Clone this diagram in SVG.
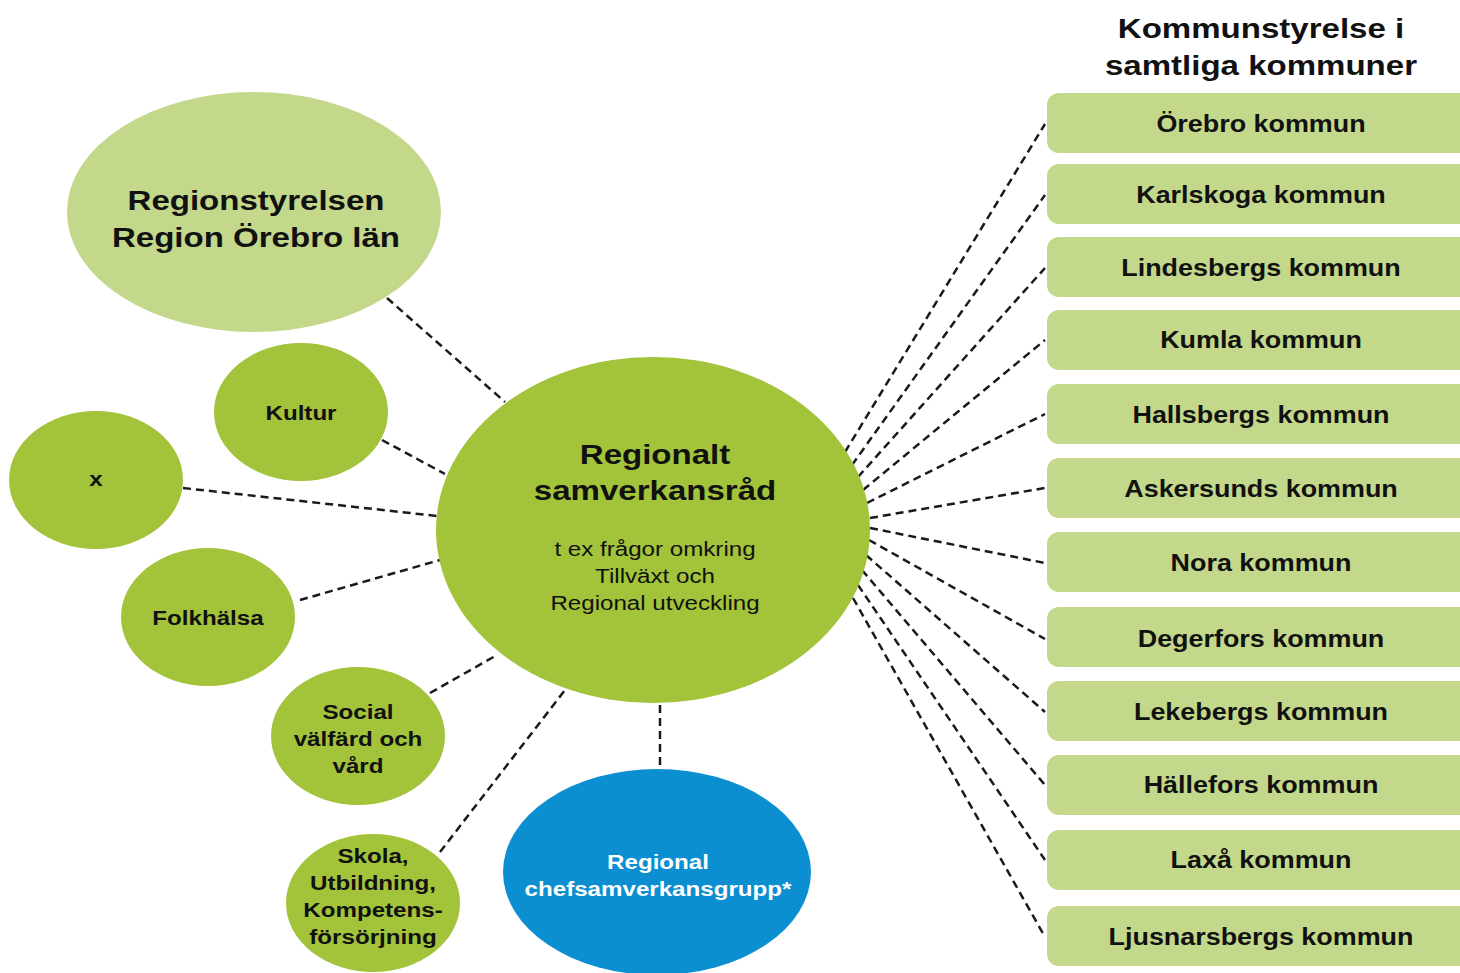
<svg xmlns="http://www.w3.org/2000/svg" width="1460" height="973" viewBox="0 0 1460 973">
<style>
.t{font-family:"Liberation Sans",Arial,sans-serif;text-anchor:middle;fill:#111}
.b{font-weight:bold}
.big{font-size:28px}
.sm{font-size:21px}
.bx{font-size:23px}
.w{fill:#fff}
.light{fill:#C3D88A}
.mid{fill:#A2C33A}
.blue{fill:#0B8FD1}
.c{stroke:#1a1a1a;stroke-width:2.5;stroke-dasharray:8 5;fill:none}
</style>
<rect width="1460" height="973" fill="#fff"/>
<g id="title">
<text class="t b big" transform="translate(1261,38) scale(1.18,1)"><tspan x="0">Kommunstyrelse i</tspan><tspan x="0" dy="37">samtliga kommuner</tspan></text>
</g>
<g id="connectors">
<line class="c" x1="387" y1="298" x2="505" y2="402"/>
<line class="c" x1="382" y1="440" x2="445" y2="474"/>
<line class="c" x1="183" y1="488" x2="437" y2="516"/>
<line class="c" x1="300" y1="600" x2="440" y2="560"/>
<line class="c" x1="430" y1="693" x2="497" y2="655"/>
<line class="c" x1="440" y1="852" x2="565" y2="690"/>
<line class="c" x1="660" y1="705" x2="660" y2="770"/>
<line class="c" x1="845" y1="452" x2="1045" y2="124"/>
<line class="c" x1="852" y1="465" x2="1045" y2="195"/>
<line class="c" x1="858" y1="477" x2="1045" y2="268"/>
<line class="c" x1="863" y1="490" x2="1045" y2="340"/>
<line class="c" x1="867" y1="503" x2="1045" y2="414"/>
<line class="c" x1="870" y1="518" x2="1045" y2="488"/>
<line class="c" x1="870" y1="528" x2="1045" y2="563"/>
<line class="c" x1="869" y1="540" x2="1045" y2="639"/>
<line class="c" x1="866" y1="555" x2="1045" y2="712"/>
<line class="c" x1="862" y1="570" x2="1045" y2="785"/>
<line class="c" x1="858" y1="585" x2="1045" y2="860"/>
<line class="c" x1="853" y1="598" x2="1045" y2="937"/>
</g>
<g id="regionstyrelsen">
<ellipse class="light" cx="254" cy="212" rx="187" ry="120"/>
<text class="t b big" transform="translate(256,210) scale(1.18,1)"><tspan x="0">Regionstyrelsen</tspan><tspan x="0" dy="37">Region Örebro län</tspan></text>
</g>
<g id="kultur">
<ellipse class="mid" cx="301" cy="412" rx="87" ry="69"/>
<text class="t b sm" transform="translate(301,420) scale(1.15,1)">Kultur</text>
</g>
<g id="x">
<ellipse class="mid" cx="96" cy="480" rx="87" ry="69"/>
<text class="t b sm" transform="translate(96,486) scale(1.15,1)">x</text>
</g>
<g id="folkhalsa">
<ellipse class="mid" cx="208" cy="617" rx="87" ry="69"/>
<text class="t b sm" transform="translate(208,625) scale(1.15,1)">Folkhälsa</text>
</g>
<g id="social">
<ellipse class="mid" cx="358" cy="736" rx="87" ry="69"/>
<text class="t b sm" transform="translate(358,719) scale(1.15,1)"><tspan x="0">Social</tspan><tspan x="0" dy="27">välfärd och</tspan><tspan x="0" dy="27">vård</tspan></text>
</g>
<g id="skola">
<ellipse class="mid" cx="373" cy="903" rx="87" ry="69"/>
<text class="t b sm" transform="translate(373,863) scale(1.15,1)"><tspan x="0">Skola,</tspan><tspan x="0" dy="27">Utbildning,</tspan><tspan x="0" dy="27">Kompetens-</tspan><tspan x="0" dy="27">försörjning</tspan></text>
</g>
<g id="central">
<ellipse class="mid" cx="653" cy="530" rx="217" ry="173"/>
<text class="t b big" transform="translate(655,464) scale(1.18,1)"><tspan x="0">Regionalt</tspan><tspan x="0" dy="36">samverkansråd</tspan></text>
<text class="t sm" transform="translate(655,556) scale(1.15,1)"><tspan x="0">t ex frågor omkring</tspan><tspan x="0" dy="27">Tillväxt och</tspan><tspan x="0" dy="27">Regional utveckling</tspan></text>
</g>
<g id="chefsgrupp">
<ellipse class="blue" cx="657" cy="872" rx="154" ry="103"/>
<text class="t b sm w" transform="translate(658,869) scale(1.15,1)"><tspan x="0">Regional</tspan><tspan x="0" dy="27">chefsamverkansgrupp*</tspan></text>
</g>
<g id="orebro"><rect class="light" x="1047" y="93" width="440" height="60" rx="12"/><text class="t b bx" transform="translate(1261,132) scale(1.17,1)">Örebro kommun</text></g>
<g id="karlskoga"><rect class="light" x="1047" y="164" width="440" height="60" rx="12"/><text class="t b bx" transform="translate(1261,203) scale(1.17,1)">Karlskoga kommun</text></g>
<g id="lindesberg"><rect class="light" x="1047" y="237" width="440" height="60" rx="12"/><text class="t b bx" transform="translate(1261,276) scale(1.17,1)">Lindesbergs kommun</text></g>
<g id="kumla"><rect class="light" x="1047" y="310" width="440" height="60" rx="12"/><text class="t b bx" transform="translate(1261,348) scale(1.17,1)">Kumla kommun</text></g>
<g id="hallsberg"><rect class="light" x="1047" y="384" width="440" height="60" rx="12"/><text class="t b bx" transform="translate(1261,423) scale(1.17,1)">Hallsbergs kommun</text></g>
<g id="askersund"><rect class="light" x="1047" y="458" width="440" height="60" rx="12"/><text class="t b bx" transform="translate(1261,497) scale(1.17,1)">Askersunds kommun</text></g>
<g id="nora"><rect class="light" x="1047" y="532" width="440" height="60" rx="12"/><text class="t b bx" transform="translate(1261,571) scale(1.17,1)">Nora kommun</text></g>
<g id="degerfors"><rect class="light" x="1047" y="607" width="440" height="60" rx="12"/><text class="t b bx" transform="translate(1261,647) scale(1.17,1)">Degerfors kommun</text></g>
<g id="lekeberg"><rect class="light" x="1047" y="681" width="440" height="60" rx="12"/><text class="t b bx" transform="translate(1261,720) scale(1.17,1)">Lekebergs kommun</text></g>
<g id="hallefors"><rect class="light" x="1047" y="755" width="440" height="60" rx="12"/><text class="t b bx" transform="translate(1261,793) scale(1.17,1)">Hällefors kommun</text></g>
<g id="laxa"><rect class="light" x="1047" y="830" width="440" height="60" rx="12"/><text class="t b bx" transform="translate(1261,868) scale(1.17,1)">Laxå kommun</text></g>
<g id="ljusnarsberg"><rect class="light" x="1047" y="906" width="440" height="60" rx="12"/><text class="t b bx" transform="translate(1261,945) scale(1.17,1)">Ljusnarsbergs kommun</text></g>
</svg>
